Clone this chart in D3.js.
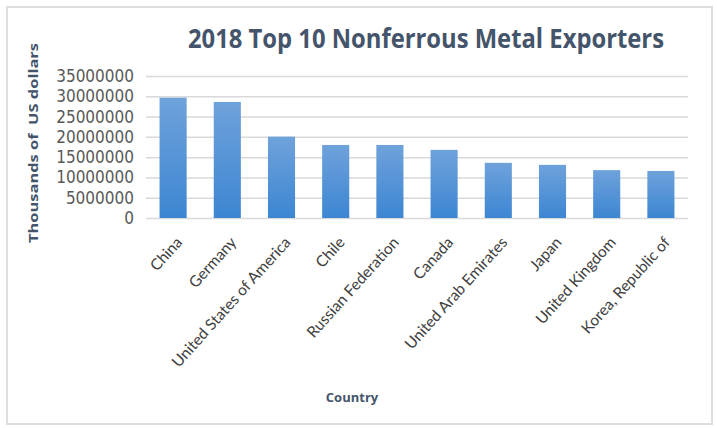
<!DOCTYPE html>
<html>
<head>
<meta charset="utf-8">
<script src="https://cdn.jsdelivr.net/npm/d3@7"></script>
<style>
  html, body { margin: 0; padding: 0; background: #fff; }
  #chart { width: 717px; height: 428px; }
</style>
</head>
<body>
<div id="chart"></div>
<script>
const countries = [
    "China", "Germany", "United States of America", "Chile", "Russian Federation",
    "Canada", "United Arab Emirates", "Japan", "United Kingdom", "Korea, Republic of"
];
const exportValues = [
    29650000, 28600000, 20050000, 18000000, 18000000,
    16800000, 13600000, 13100000, 11800000, 11600000
];
const yTicks = [0, 5000000, 10000000, 15000000, 20000000, 25000000, 30000000, 35000000];

function renderChart(selector = "#chart") {
    const width = 717;
    const height = 428;
    const margin = { top: 76, right: 29, bottom: 210, left: 146 };

    const svg = d3.select(selector).append("svg")
        .attr("width", width)
        .attr("height", height)
        .style("display", "block");

    // outer frame
    svg.append("rect")
        .attr("x", 7).attr("y", 7)
        .attr("width", 705).attr("height", 417)
        .attr("fill", "#fff")
        .attr("stroke", "#dedede")
        .attr("stroke-width", 2);

    const grad = svg.append("defs").append("linearGradient")
        .attr("id", "barGrad")
        .attr("x1", 0).attr("y1", 0).attr("x2", 0).attr("y2", 1);
    grad.append("stop").attr("offset", "0%").attr("stop-color", "#6fa2db");
    grad.append("stop").attr("offset", "100%").attr("stop-color", "#3c86d2");

    const x = d3.scaleBand()
        .domain(countries)
        .range([margin.left, width - margin.right])
        .paddingInner(0.5)
        .paddingOuter(0.25);

    const y = d3.scaleLinear()
        .domain([0, 35000000])
        .range([height - margin.bottom, margin.top]);

    // gridlines
    svg.append("g")
        .attr("class", "grid")
        .attr("transform", `translate(${margin.left},0)`)
        .call(d3.axisLeft(y).tickValues(yTicks).tickSize(-(width - margin.left - margin.right)).tickFormat(""))
        .call(g => g.select(".domain").remove())
        .selectAll("line")
        .attr("stroke", "#d9d9d9")
        .attr("stroke-width", 1.5);

    // y tick labels
    svg.append("g")
        .attr("class", "y-axis")
        .attr("transform", `translate(${margin.left},0)`)
        .call(d3.axisLeft(y).tickValues(yTicks).tickSize(0).tickPadding(12).tickFormat(d3.format("d")))
        .call(g => g.select(".domain").remove())
        .selectAll("text")
        .attr("fill", "#595959")
        .style("font-family", "'Liberation Sans Narrow', 'DejaVu Sans Condensed', sans-serif")
        .style("font-size", "17px");

    // bars
    svg.append("g")
        .selectAll("rect")
        .data(countries)
        .join("rect")
        .attr("x", d => x(d))
        .attr("y", (d, i) => y(exportValues[i]))
        .attr("width", x.bandwidth())
        .attr("height", (d, i) => y(0) - y(exportValues[i]))
        .attr("fill", "url(#barGrad)");

    // x labels
    svg.append("g")
        .selectAll("text")
        .data(countries)
        .join("text")
        .attr("transform", d => `translate(${x(d) + x.bandwidth() / 2 + 10},${y(0) + 25}) rotate(-48)`)
        .attr("text-anchor", "end")
        .attr("fill", "#404040")
        .style("font-family", "Lato, sans-serif")
        .style("font-size", "15.5px")
        .text(d => d);

    // title
    svg.append("text")
        .attr("x", 188)
        .attr("y", 48)
        .attr("textLength", 476)
        .attr("lengthAdjust", "spacingAndGlyphs")
        .attr("fill", "#44546a")
        .style("font-family", "'Open Sans', sans-serif")
        .style("font-weight", 700)
        .style("font-size", "26px")
        .text("2018 Top 10 Nonferrous Metal Exporters");

    // axis titles
    svg.append("text")
        .attr("x", 352)
        .attr("y", 402)
        .attr("text-anchor", "middle")
        .attr("fill", "#44546a")
        .style("font-family", "'Open Sans', sans-serif")
        .style("font-weight", "bold")
        .style("font-size", "13px")
        .text("Country");

    svg.append("text")
        .attr("transform", "translate(38,143) rotate(-90)")
        .attr("text-anchor", "middle")
        .attr("textLength", 200)
        .attr("lengthAdjust", "spacingAndGlyphs")
        .attr("fill", "#44546a")
        .style("font-family", "'Open Sans', sans-serif")
        .style("font-weight", "bold")
        .style("font-size", "13px")
        .style("white-space", "pre")
        .text("Thousands of  US dollars");
}

renderChart();
</script>
</body>
</html>
